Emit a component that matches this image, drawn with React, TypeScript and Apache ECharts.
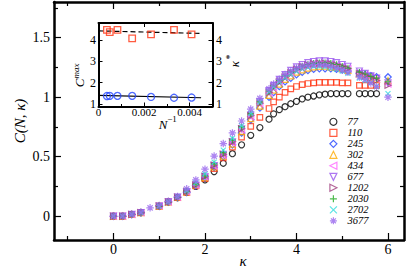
import React, { useEffect, useRef } from "react";
import * as echarts from "echarts";

const FONT = "'Liberation Serif', 'DejaVu Serif', 'Times New Roman', serif";

// main plot: kappa grid
const KAPPA = [0, 0.2, 0.4, 0.6, 0.8, 1.0, 1.2, 1.4, 1.6, 1.8, 2.0, 2.2, 2.4, 2.6, 2.8, 3.0, 3.2, 3.4,
  3.5, 3.625, 3.75, 3.875, 4.0, 4.125, 4.25, 4.375, 4.5, 4.625, 4.75, 4.875, 5.0, 5.125,
  5.375, 5.5, 5.625, 5.75, 6.0];

const C77 = [0, 0, 0.015, 0.03, null, 0.085, 0.12, 0.155, 0.2, 0.25, 0.305, 0.375, 0.445, 0.525, 0.6, 0.68, 0.745, 0.815,
  0.86, 0.895, 0.92, 0.945, 0.965, 0.985, 1.0, 1.01, 1.02, 1.025, 1.03, 1.03, 1.03, 1.03, 1.03, 1.03, 1.03, 1.03, null];
const C110 = [0, 0, 0.015, 0.03, null, 0.085, 0.12, 0.155, 0.2, 0.255, 0.315, 0.4, 0.49, 0.58, 0.665, 0.755, 0.83, 0.905,
  0.96, 1.0, 1.04, 1.07, 1.09, 1.105, 1.115, 1.12, 1.125, 1.125, 1.125, 1.125, 1.12, 1.12, 1.1, 1.1, 1.1, 1.1, null];
const C245 = [0, 0, 0.015, 0.03, null, 0.085, 0.12, 0.16, 0.2, 0.255, 0.32, 0.41, 0.5, 0.6, 0.7, 0.81, 0.91, 1.0,
  1.04, 1.09, 1.13, 1.16, 1.19, 1.21, 1.225, 1.235, 1.24, 1.24, 1.24, 1.235, 1.23, 1.22, 1.2, 1.19, 1.18, 1.17, 1.17];
const C302 = [0, 0, 0.015, 0.03, null, 0.085, 0.12, 0.16, 0.205, 0.26, 0.325, 0.415, 0.505, 0.605, 0.71, 0.82, 0.925, 1.015,
  1.06, 1.11, 1.15, 1.18, 1.21, 1.23, 1.245, 1.255, 1.26, 1.26, 1.255, 1.25, 1.24, 1.225, 1.195, 1.18, 1.165, 1.15, 1.14];
const C434 = [0, 0, 0.015, 0.03, null, 0.085, 0.12, 0.16, 0.205, 0.26, 0.33, 0.42, 0.51, 0.615, 0.725, 0.835, 0.945, 1.035,
  1.08, 1.13, 1.17, 1.2, 1.23, 1.25, 1.265, 1.275, 1.28, 1.28, 1.275, 1.265, 1.255, 1.24, 1.205, 1.19, 1.17, 1.15, 1.11];
const C677 = [0, 0, 0.015, 0.03, null, 0.085, 0.12, 0.16, 0.205, 0.26, 0.33, 0.425, 0.52, 0.625, 0.735, 0.85, 0.96, 1.055,
  1.1, 1.15, 1.19, 1.225, 1.255, 1.275, 1.29, 1.3, 1.305, 1.305, 1.3, 1.29, 1.275, 1.26, 1.22, 1.2, 1.18, 1.16, 1.12];
const C1202 = [0, 0, 0.015, 0.03, null, 0.085, 0.12, 0.16, 0.21, 0.265, 0.335, 0.43, 0.52, 0.625, 0.735, 0.845, 0.95, 1.04,
  1.085, 1.13, 1.17, 1.205, 1.235, 1.255, 1.27, 1.28, 1.285, 1.285, 1.28, 1.27, 1.255, 1.24, 1.2, 1.18, 1.16, 1.14, 1.1];
const C2030 = [0, 0, 0.015, 0.03, null, 0.085, 0.12, 0.16, 0.21, 0.27, 0.34, 0.44, 0.535, 0.64, 0.75, 0.86, 0.96, 1.05,
  1.095, 1.14, 1.18, 1.21, 1.24, 1.26, 1.275, 1.285, 1.29, 1.29, 1.285, 1.275, 1.26, 1.245, 1.21, 1.195, 1.175, 1.16, 1.13];
const C2702 = [0, 0, 0.015, 0.03, null, 0.085, 0.12, 0.165, 0.215, 0.28, 0.355, 0.455, 0.555, 0.655, 0.76, 0.865, 0.96, 1.045,
  1.085, 1.13, 1.165, 1.195, 1.22, 1.24, 1.25, 1.26, 1.26, 1.255, 1.245, 1.235, 1.22, 1.2, 1.16, 1.14, 1.12, 1.09, 1.03];
const C3677 = [0, 0, 0.015, 0.035, 0.07, 0.09, 0.125, 0.165, 0.23, 0.305, 0.395, 0.505, 0.61, 0.7, 0.8, 0.9, 0.99, 1.07,
  1.11, 1.15, 1.19, 1.22, 1.245, 1.26, 1.27, 1.275, 1.275, 1.27, 1.26, 1.245, 1.23, 1.21, 1.17, 1.15, 1.12, 1.09, 1.0];

const SERIES_NAMES = ["77", "110", "245", "302", "434", "677", "1202", "2030", "2702", "3677"];
const SERIES_VALUES = [C77, C110, C245, C302, C434, C677, C1202, C2030, C2702, C3677];
const SERIES_COLORS = ["#000000", "#ff3311", "#2244ff", "#ffaa00", "#ff66ff", "#9955ee", "#a04080", "#22aa22", "#33dddd", "#9966ee"];
const SERIES_SYMBOLS = [
  "circle",
  "path://M0,0L2,0L2,2L0,2Z",
  "path://M1,0L2,1L1,2L0,1Z",
  "path://M1,0L2,2L0,2Z",
  "path://M2,0L2,2L0,1Z",
  "path://M0,0L2,0L1,2Z",
  "path://M0,0L2,1L0,2Z",
  "path://M1,0L1,2M0,1L2,1",
  "path://M0,0L2,2M2,0L0,2",
  "path://M1,0L1,2M0,1L2,1M0.3,0.3L1.7,1.7M1.7,0.3L0.3,1.7",
];
const SERIES_SIZES = [6, 5.5, 6.5, 6, 6, 6, 6, 6.5, 5, 7.5];

// axes ticks
const X_MAJOR = [0, 2, 4, 6];
const X_MINOR = [-1, 1, 3, 5];
const Y_MAJOR = [0, 0.5, 1, 1.5];
const Y_MINOR = [0.25, 0.75, 1.25, 1.75];

// inset
const INSET_N = [2702, 2030, 1202, 677, 434, 302, 245];
const INSET_CMAX = [4.48, 4.37, 4.48, 4.08, 4.27, 4.48, 4.27];
const INSET_KSTAR = [1.37, 1.38, 1.38, 1.38, 1.33, 1.29, 1.3];
const INSET_CMAX_FIT = [[0, 4.43], [0.0045, 4.31]];
const INSET_KSTAR_FIT = [[0, 1.4], [0.0045, 1.29]];
const INSET_X_LABELS = [0, 0.002, 0.004];
const INSET_X_MAJOR = [0.002, 0.004];
const INSET_X_MINOR = [0.001, 0.003];
const INSET_Y_MAJOR = [1, 2, 3, 4];

export default function App() {
  const ref = useRef<HTMLDivElement>(null);
  useEffect(() => {
    if (!ref.current) return;
    const chart = echarts.init(ref.current, undefined, { renderer: "svg" });

    const lineStyleMain = { color: "#000", width: 2.5 };
    const lineStyleInset = { color: "#000", width: 2 };

    const ax = (o: any) => ({
      type: "value",
      splitLine: { show: false },
      axisLine: { show: false, onZero: false, lineStyle: lineStyleMain },
      axisTick: { show: false },
      axisLabel: { show: false },
      ...o,
    });

    const mainX = { gridIndex: 0, min: -1.3, max: 6.35 };
    const mainY = { gridIndex: 0, min: -0.2, max: 1.8 };
    const insX = { gridIndex: 1, min: 0, max: 0.005 };
    const insY = { gridIndex: 1, min: 0.88, max: 4.8 };

    const tick = (vals: number[], len: number, w = 1.2) => ({
      show: true, inside: true, length: len, customValues: vals, lineStyle: { color: "#000", width: w },
    });

    const xAxis = [
      ax({ ...mainX, position: "bottom", axisLine: { show: true, onZero: false, lineStyle: lineStyleMain },
        axisTick: tick(X_MAJOR, 7),
        axisLabel: { show: true, customValues: X_MAJOR, fontSize: 14, fontFamily: FONT, color: "#000", margin: 2 } }),
      ax({ ...mainX, position: "bottom", axisTick: tick(X_MINOR, 4) }),
      ax({ ...mainX, position: "top", axisLine: { show: true, onZero: false, lineStyle: lineStyleMain }, axisTick: tick(X_MAJOR, 7) }),
      ax({ ...mainX, position: "top", axisTick: tick(X_MINOR, 4) }),
      ax({ ...insX, position: "bottom", axisLine: { show: true, onZero: false, lineStyle: lineStyleInset },
        axisTick: tick(INSET_X_MAJOR, 4, 1),
        axisLabel: { show: true, customValues: INSET_X_LABELS, fontSize: 11, fontFamily: FONT, color: "#000", margin: 0,
          formatter: (v: number) => (v === 0 ? "0" : v.toFixed(3)) } }),
      ax({ ...insX, position: "bottom", axisTick: tick(INSET_X_MINOR, 2.5, 1) }),
      ax({ ...insX, position: "top", axisLine: { show: true, onZero: false, lineStyle: lineStyleInset }, axisTick: tick(INSET_X_MAJOR, 4, 1) }),
    ];

    const yAxis = [
      ax({ ...mainY, position: "left", axisLine: { show: true, onZero: false, lineStyle: lineStyleMain },
        axisTick: tick(Y_MAJOR, 7),
        axisLabel: { show: true, customValues: Y_MAJOR, fontSize: 14, fontFamily: FONT, color: "#000", margin: 4 } }),
      ax({ ...mainY, position: "left", axisTick: tick(Y_MINOR, 4) }),
      ax({ ...mainY, position: "right", axisLine: { show: true, onZero: false, lineStyle: lineStyleMain }, axisTick: tick(Y_MAJOR, 7) }),
      ax({ ...mainY, position: "right", axisTick: tick(Y_MINOR, 4) }),
      ax({ ...insY, position: "left", axisLine: { show: true, onZero: false, lineStyle: lineStyleInset },
        axisTick: tick(INSET_Y_MAJOR, 4, 1),
        axisLabel: { show: true, customValues: INSET_Y_MAJOR, fontSize: 12, fontFamily: FONT, color: "#000", margin: 2.5 } }),
      ax({ ...insY, position: "right", axisLine: { show: true, onZero: false, lineStyle: lineStyleInset },
        axisTick: tick(INSET_Y_MAJOR, 4, 1),
        axisLabel: { show: true, customValues: INSET_Y_MAJOR, fontSize: 12, fontFamily: FONT, color: "#000", margin: 3.5 } }),
    ];

    const mainSeries = SERIES_NAMES.map((name, i) => ({
      name,
      type: "scatter",
      xAxisIndex: 0,
      yAxisIndex: 0,
      symbol: SERIES_SYMBOLS[i],
      symbolSize: SERIES_SIZES[i],
      itemStyle: { color: "rgba(0,0,0,0)", borderColor: SERIES_COLORS[i], borderWidth: 1.2 },
      data: KAPPA.map((k, j) => [k, SERIES_VALUES[i][j]]).filter((p) => p[1] !== null),
      z: 2 + i,
    }));

    const insetSeries = [
      { type: "line", xAxisIndex: 4, yAxisIndex: 4, data: INSET_CMAX_FIT, symbol: "none",
        lineStyle: { color: "#000", width: 1.2, type: [5, 3] }, z: 20 },
      { type: "line", xAxisIndex: 4, yAxisIndex: 4, data: INSET_KSTAR_FIT, symbol: "none",
        lineStyle: { color: "#000", width: 1.2 }, z: 20 },
      { type: "scatter", xAxisIndex: 4, yAxisIndex: 4, symbol: "path://M0,0L2,0L2,2L0,2Z", symbolSize: 6.5,
        itemStyle: { color: "rgba(0,0,0,0)", borderColor: "#ff3311", borderWidth: 1.3 },
        data: INSET_N.map((n, j) => [1 / n, INSET_CMAX[j]]), z: 21 },
      { type: "scatter", xAxisIndex: 4, yAxisIndex: 4, symbol: "circle", symbolSize: 7,
        itemStyle: { color: "rgba(0,0,0,0)", borderColor: "#2244ff", borderWidth: 1.3 },
        data: INSET_N.map((n, j) => [1 / n, INSET_KSTAR[j]]), z: 21 },
    ];

    const txt = (text: string, x: number, y: number, size: number, rot = 0, italic = true) => ({
      type: "text", x, y, rotation: rot, z: 50,
      style: { text, fontSize: size, fontFamily: FONT, fontStyle: italic ? "italic" : "normal", fill: "#000",
        align: "center", verticalAlign: "middle" },
    });

    chart.setOption({
      animation: false,
      backgroundColor: "#fff",
      grid: [
        { left: 54, right: 5, top: 2, bottom: 33 },
        { left: 98.5, right: 196.5, top: 23, bottom: 166.5 },
      ],
      xAxis,
      yAxis,
      legend: {
        orient: "vertical",
        left: 329.3,
        top: 116.3,
        padding: 0,
        itemWidth: 18,
        itemHeight: 7,
        itemGap: 0,
        symbolKeepAspect: true,
        data: SERIES_NAMES,
        textStyle: { fontSize: 10.5, fontStyle: "italic", fontFamily: FONT, color: "#000" },
        itemStyle: { borderWidth: 1.2 },
        selectedMode: false,
      },
      series: [...mainSeries, ...insetSeries],
      graphic: [
        txt("C(N, κ)", 20, 121, 15, Math.PI / 2),
        txt("κ", 243, 261, 15),
        txt("C", 79, 83, 13, Math.PI / 2),
        txt("max", 75.5, 71, 9, Math.PI / 2),
        txt("κ", 234, 64, 13, Math.PI / 2),
        txt("*", 229.5, 57, 10, Math.PI / 2, false),
        txt("N", 163, 124, 13),
        txt("−1", 172, 119, 9, 0, false),
      ],
    });
    return () => chart.dispose();
  }, []);
  return <div ref={ref} style={{ position: "fixed", left: 0, top: 0, width: 409, height: 273 }} />;
}
